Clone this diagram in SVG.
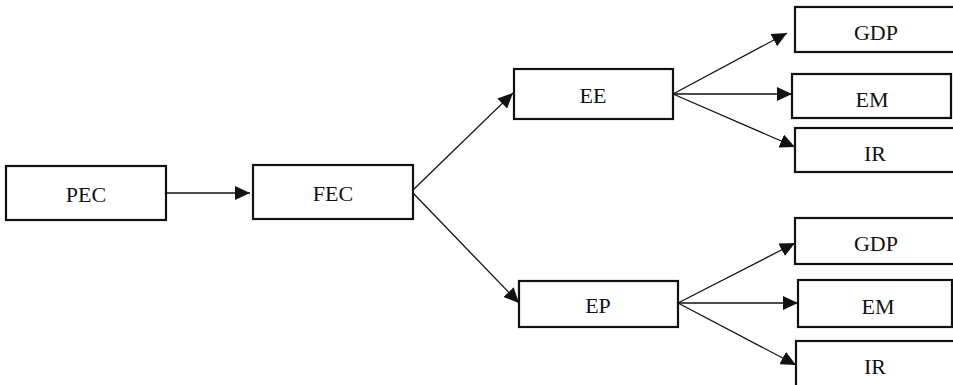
<svg xmlns="http://www.w3.org/2000/svg" width="953" height="385" viewBox="0 0 953 385">
<style>
.box{fill:#fff;stroke:#111;stroke-width:2.2}
.lbl{font-family:"Liberation Serif","Times New Roman",serif;font-size:22px;fill:#111;text-anchor:middle;dominant-baseline:central}
.edge{stroke:#111;stroke-width:1.3;fill:none;marker-end:url(#ah)}
</style>
<defs>
<marker id="ah" markerUnits="userSpaceOnUse" markerWidth="16" markerHeight="14" refX="15" refY="7" orient="auto">
<path d="M0,0 L15,7 L0,14 Z" fill="#111"/>
</marker>
</defs>
<rect width="953" height="385" fill="#fff"/>
<g id="connectors">
<line class="edge" x1="166" y1="193" x2="250" y2="193"/>
<line class="edge" x1="413" y1="190" x2="513" y2="93"/>
<line class="edge" x1="413" y1="193" x2="519" y2="303"/>
<line class="edge" x1="673" y1="94" x2="787" y2="33"/>
<line class="edge" x1="673" y1="94" x2="792" y2="94"/>
<line class="edge" x1="673" y1="94" x2="795" y2="147"/>
<line class="edge" x1="678" y1="303" x2="795" y2="243"/>
<line class="edge" x1="678" y1="303" x2="798" y2="303"/>
<line class="edge" x1="678" y1="303" x2="796" y2="365"/>
</g>
<g id="PEC"><rect class="box" x="6" y="166" width="160" height="54"/><text class="lbl" x="86" y="194">PEC</text></g>
<g id="FEC"><rect class="box" x="253" y="165" width="160" height="54"/><text class="lbl" x="333" y="193">FEC</text></g>
<g id="EE"><rect class="box" x="514" y="69" width="159" height="50"/><text class="lbl" x="593" y="95">EE</text></g>
<g id="EP"><rect class="box" x="519" y="281" width="159" height="46"/><text class="lbl" x="598" y="305">EP</text></g>
<g id="GDP1"><rect class="box" x="795" y="7" width="165" height="45"/><text class="lbl" x="876" y="32">GDP</text></g>
<g id="EM1"><rect class="box" x="792" y="74" width="159" height="44"/><text class="lbl" x="872" y="99">EM</text></g>
<g id="IR1"><rect class="box" x="795" y="128" width="165" height="44"/><text class="lbl" x="875" y="153">IR</text></g>
<g id="GDP2"><rect class="box" x="795" y="218" width="165" height="46"/><text class="lbl" x="876" y="243">GDP</text></g>
<g id="EM2"><rect class="box" x="798" y="280" width="154" height="47"/><text class="lbl" x="878" y="306">EM</text></g>
<g id="IR2"><rect class="box" x="796" y="341" width="165" height="46"/><text class="lbl" x="875" y="366">IR</text></g>
</svg>
